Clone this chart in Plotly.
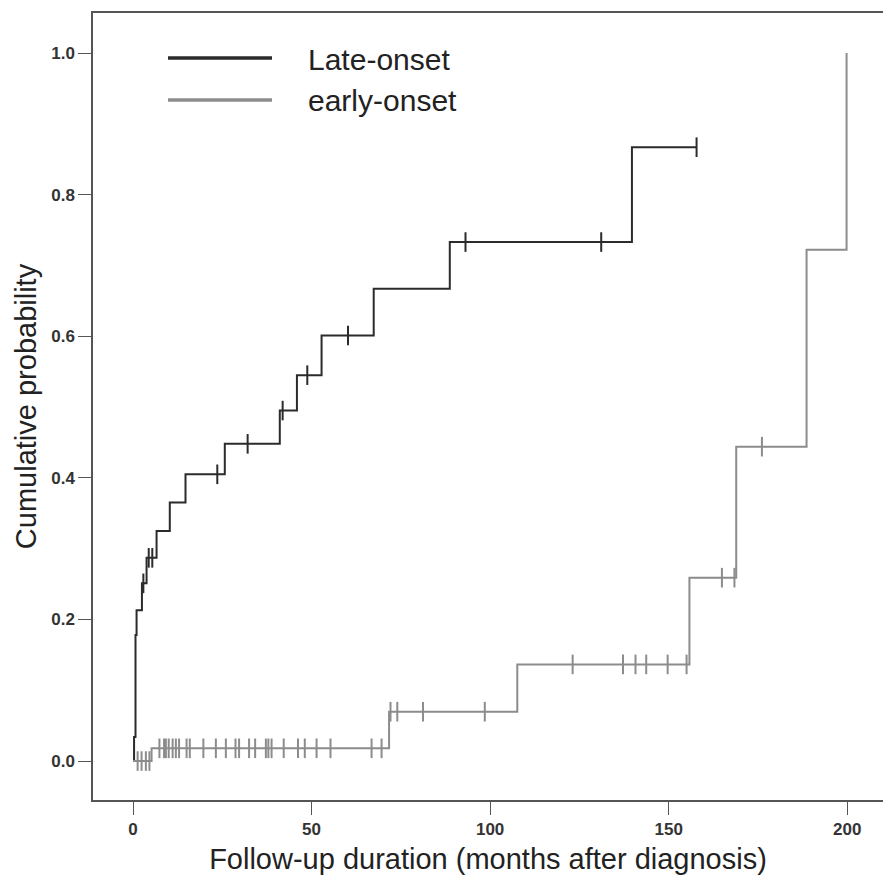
import plotly.graph_objects as go
import numpy as np

# ---- data ----
late_times = [0, 0.3, 0.7, 1.0, 2.5, 3.8, 6.6, 10.3, 14.7, 25.7, 41.1, 45.9, 52.8, 67.4, 88.7, 139.7]
late_probs = [0, 0.034, 0.178, 0.213, 0.251, 0.287, 0.325, 0.365, 0.405, 0.448, 0.495, 0.545, 0.601, 0.667, 0.733, 0.867]
late_end = 157.8
late_censored = [2.9, 4.4, 5.4, 23.6, 32.1, 41.9, 48.8, 60.2, 93.1, 131.1, 157.8]

early_times = [0, 5.2, 71.7, 107.6, 155.8, 168.9, 188.6, 199.8]
early_probs = [0, 0.018, 0.0697, 0.1365, 0.259, 0.444, 0.722, 1.0]
early_end = 199.8
early_censored = [1.3, 2.4, 3.6, 4.6,
                  7.4, 8.7, 9.2, 10.0, 11.1, 12.0, 12.9, 15.0, 15.9, 19.7, 23.2, 26.0,
                  28.7, 29.7, 32.5, 34.2, 37.2, 37.9, 38.8, 42.2, 46.2, 48.1, 51.4, 55.3,
                  66.8, 69.6,
                  72.1, 74.0, 81.2, 98.5,
                  123.1, 137.2, 140.7, 143.7, 149.7, 155.0,
                  164.9, 168.4,
                  176.1]

series_names = ["Late-onset", "early-onset"]
series_colors = ["#2b2b2b", "#8c8c8c"]

x_ticks = [0, 50, 100, 150, 200]
y_ticks = [0.0, 0.2, 0.4, 0.6, 0.8, 1.0]


def step_value(times, probs, t):
    idx = np.searchsorted(np.array(times), t, side="right") - 1
    return probs[max(idx, 0)]


fig = go.Figure()

for times, probs, end, cens, name, color in [
    (late_times, late_probs, late_end, late_censored, series_names[0], series_colors[0]),
    (early_times, early_probs, early_end, early_censored, series_names[1], series_colors[1]),
]:
    xs = list(times) + ([end] if end > times[-1] else [])
    ys = list(probs) + ([probs[-1]] if end > times[-1] else [])
    fig.add_trace(go.Scatter(x=xs, y=ys, mode="lines", line=dict(color=color, width=2, shape="hv"),
                             name=name, showlegend=False, hoverinfo="skip"))
    fig.add_trace(go.Scatter(x=cens, y=[step_value(times, probs, c) for c in cens], mode="markers",
                             marker=dict(symbol="line-ns", size=14, line=dict(color=color, width=2)),
                             showlegend=False, hoverinfo="skip"))

W, H = 883, 878
L, T, R, B = 93, 13, 883, 800


def px(xp):
    return (xp - L) / (R - L)


def py(yp):
    return (B - yp) / (B - T)


FONT = "Liberation Sans, Arial"

# legend drawn manually (long line samples like the reference)
for i, (name, color) in enumerate(zip(series_names, series_colors)):
    ypix = 58 + i * 42
    fig.add_shape(type="line", xref="paper", yref="paper", x0=px(168), x1=px(272), y0=py(ypix), y1=py(ypix),
                  line=dict(color=color, width=3.5))
    fig.add_annotation(xref="paper", yref="paper", x=px(306), y=py(ypix + 1), text=name, showarrow=False,
                       xanchor="left", yanchor="middle",
                       font=dict(family=FONT, size=30, color="#222"))

fig.update_layout(
    width=W, height=H,
    margin=dict(l=L, r=W - R, t=T, b=H - B),
    paper_bgcolor="white", plot_bgcolor="white",
    font=dict(family=FONT, color="#222"),
    xaxis=dict(range=[-11.2, 210], tickvals=x_ticks, ticktext=[str(v) for v in x_ticks],
               automargin=False,
               showgrid=False, zeroline=False, showline=True, linecolor="#555", linewidth=1.5, mirror=True,
               ticks="outside", ticklen=13, tickwidth=1.2, tickcolor="#555",
               tickfont=dict(family=FONT, size=17, color="#333", weight="bold"),
               title=dict(text="Follow-up duration (months after diagnosis)", standoff=11,
                          font=dict(family=FONT, size=29, color="#222"))),
    yaxis=dict(range=[-0.055, 1.0565], tickvals=y_ticks, ticktext=[f"{v:.1f}" for v in y_ticks],
               automargin=False,
               showgrid=False, zeroline=False, showline=True, linecolor="#555", linewidth=1.5,
               ticks="outside", ticklen=13, tickwidth=1.2, tickcolor="#555",
               tickfont=dict(family=FONT, size=17, color="#333", weight="bold"),
               title=dict(text="Cumulative probability", standoff=6,
                          font=dict(family=FONT, size=29, color="#222"))),
)

fig.write_html("out.html", config={"displayModeBar": False},
               post_script="document.body.style.margin='0';document.body.style.padding='0';")
